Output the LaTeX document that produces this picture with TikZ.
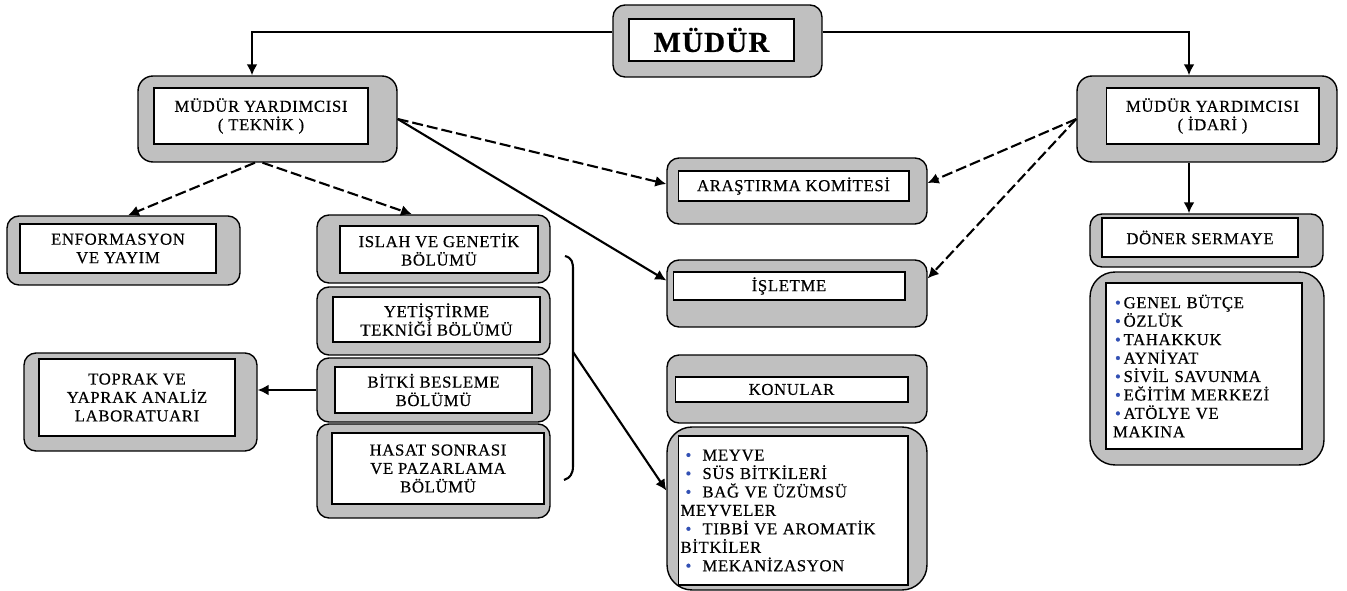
\documentclass[tikz,border=0pt]{standalone}
\usepackage{fontspec}
\setmainfont{Liberation Serif}[LetterSpace=4, FakeBold=0.5]
\usepackage{tikz}
\usetikzlibrary{arrows.meta}
\usepackage{xcolor}
\definecolor{boxgray}{RGB}{192,192,192}
\definecolor{dotblue}{RGB}{50,80,180}
\newcommand{\dotb}{\textcolor{dotblue}{\textbullet}}
\tikzset{%
	graybox/.style={
		draw=black,
		line width=0.8pt,
		fill=boxgray,
		rounded corners=0.24cm,
		inner sep=0pt
	},
	whitebox/.style={
		draw=black,
		line width=0.6pt,
		fill=white,
		inner sep=0pt,
		align=center,
		font=\fontsize{9.5}{10.5}\selectfont
	},
	listbox/.style={
		whitebox,
		align=left
	},
}

\begin{document}
\begin{tikzpicture}[x=0.02cm, y=-0.02cm, >={Latex[length=2.2mm,width=2.2mm]}]
			\tikzstyle{main}=[line width=1.4pt]
			\tikzstyle{link}=[line width=1.2pt]
			\tikzstyle{dsh}=[line width=1.2pt, dash pattern=on 2.2mm off 0.8mm]
			\useasboundingbox (0,0) rectangle (1347,591);
			
			% top
			\node[graybox, minimum width=4.18cm, minimum height=1.44cm](mud) at (717.5,41){};
			\node[whitebox, minimum width=3.30cm, minimum height=0.84cm, font=\fontsize{16.5}{18}\selectfont\bfseries](mudIn) at (711.5,40){MÜDÜR};
			
			\node[graybox, minimum width=5.18cm, minimum height=1.72cm, rounded corners=0.3cm](tek) at (267.5,119){};
			\node[whitebox, minimum width=4.28cm, minimum height=1.12cm](tekIn) at (261,116){MÜDÜR YARDIMCISI\\( TEKNİK )};
			
			\node[graybox, minimum width=5.2cm, minimum height=1.72cm, rounded corners=0.3cm](ida) at (1207,119){};
			\node[whitebox, minimum width=4.26cm, minimum height=1.12cm](idaIn) at (1212.5,116){MÜDÜR YARDIMCISI\\( İDARİ )};
			
			% left side
			\node[graybox, minimum width=4.66cm, minimum height=1.38cm](enf) at (123.5,250.5){};
			\node[whitebox, minimum width=3.92cm, minimum height=0.98cm](enfIn) at (118,248.5){ENFORMASYON\\VE YAYIM};
			
			\node[graybox, minimum width=4.66cm, minimum height=1.96cm](tpr) at (140.5,402){};
			\node[whitebox, minimum width=3.92cm, minimum height=1.54cm](tprIn) at (137,397.5){TOPRAK VE\\YAPRAK ANALİZ\\LABORATUARI};
			
			% departments
			\node[graybox, minimum width=4.66cm, minimum height=1.36cm](isl) at (433.5,249){};
			\node[whitebox, minimum width=3.96cm, minimum height=0.94cm](islIn) at (439,249.5){ISLAH VE GENETİK\\BÖLÜMÜ};
			
			\node[graybox, minimum width=4.66cm, minimum height=1.36cm](yet) at (433.5,321){};
			\node[whitebox, minimum width=4.14cm, minimum height=0.9cm](yetIn) at (436.5,319.5){YETİŞTİRME\\TEKNİĞİ BÖLÜMÜ};
			
			\node[graybox, minimum width=4.66cm, minimum height=1.28cm](bit) at (433.5,390){};
			\node[whitebox, minimum width=3.94cm, minimum height=0.92cm](bitIn) at (433.5,390){BİTKİ BESLEME\\BÖLÜMÜ};
			
			\node[graybox, minimum width=4.66cm, minimum height=1.88cm](has) at (433.5,471){};
			\node[whitebox, minimum width=4.24cm, minimum height=1.42cm](hasIn) at (438,468.5){HASAT SONRASI\\VE PAZARLAMA\\BÖLÜMÜ};
			
			% bracket
			\draw[link] (565,256) .. controls (572,258) and (573,262) .. (573,270) -- (573,466) .. controls (573,474) and (570,478) .. (564,480);
			\coordinate (brc) at (573,352);
			
			% middle
			\node[graybox, minimum width=5.2cm, minimum height=1.32cm](ara) at (797,191){};
			\node[whitebox, minimum width=4.62cm, minimum height=0.6cm](araIn) at (793.5,186){ARAŞTIRMA KOMİTESİ};
			
			\node[graybox, minimum width=5.2cm, minimum height=1.34cm](isle) at (797,293.5){};
			\node[whitebox, minimum width=4.64cm, minimum height=0.56cm](isleIn) at (789,286){İŞLETME};
			
			\node[graybox, minimum width=5.2cm, minimum height=1.36cm](kon) at (797,389){};
			\node[whitebox, minimum width=4.66cm, minimum height=0.5cm](konIn) at (791.5,389.5){KONULAR};
			
			\node[graybox, minimum width=5.2cm, minimum height=3.26cm, rounded corners=0.5cm](kls) at (797,508.5){};
			\node[listbox, text width=4.5cm, inner xsep=0.05cm, minimum height=2.98cm](klsIn) at (793,510.5){%
				\hspace{0.1cm}\dotb\ \ MEYVE\\
				\hspace{0.1cm}\dotb\ \ SÜS BİTKİLERİ\\
				\hspace{0.1cm}\dotb\ \ BAĞ VE ÜZÜMSÜ\\
				MEYVELER\\
				\hspace{0.1cm}\dotb\ \ TIBBİ VE AROMATİK\\
				BİTKİLER\\
				\hspace{0.1cm}\dotb\ \ MEKANİZASYON};
			
			% right side
			\node[graybox, minimum width=4.66cm, minimum height=1.06cm](don) at (1206.5,240.5){};
			\node[whitebox, minimum width=3.92cm, minimum height=0.78cm](donIn) at (1200,237.5){DÖNER SERMAYE};
			
			\node[graybox, minimum width=4.68cm, minimum height=3.86cm, rounded corners=0.5cm](ils) at (1207,368.5){};
			\node[listbox, text width=3.64cm, inner xsep=0.14cm, minimum height=3.32cm](ilsIn) at (1204,366){%
				\hspace{0.04cm}\dotb\,GENEL BÜTÇE\\
				\hspace{0.04cm}\dotb\,ÖZLÜK\\
				\hspace{0.04cm}\dotb\,TAHAKKUK\\
				\hspace{0.04cm}\dotb\,AYNİYAT\\
				\hspace{0.04cm}\dotb\,SİVİL SAVUNMA\\
				\hspace{0.04cm}\dotb\,EĞİTİM MERKEZİ\\
				\hspace{0.04cm}\dotb\,ATÖLYE VE\\
				MAKINA};
			
			% connectors
			\draw[main,->] ([yshift=0.18cm]mud.west) -| ([xshift=-0.31cm]tek.north);
			\draw[main,->] ([yshift=0.18cm]mud.east) -| ([xshift=-0.36cm]ida.north);
			\draw[main,->] ([xshift=-0.36cm]ida.south) -- ([xshift=-0.36cm]ida.south |- don.north);
			
			\draw[dsh,->] ([xshift=-0.25cm]tek.south) -- ([xshift=0.09cm]enf.north);
			\draw[dsh,->] ([xshift=-0.1cm]tek.south) -- ([xshift=-0.43cm]isl.north);
			
			\draw[dsh,->] (tek.east) -- ([yshift=0.14cm]ara.west);
			\draw[link,->] (tek.east) -- ([yshift=0.26cm]isle.west);
			
			\draw[dsh,->] (ida.west) -- ([yshift=0.16cm]ara.east);
			\draw[dsh,->] (ida.west) -- ([yshift=0.3cm]isle.east);
			
			\draw[link,->] (bit.west) -- (bit.west -| tpr.east);
			\draw[link,->] (brc) -- ([yshift=0.36cm]kls.west);
		\end{tikzpicture}
\end{document}
